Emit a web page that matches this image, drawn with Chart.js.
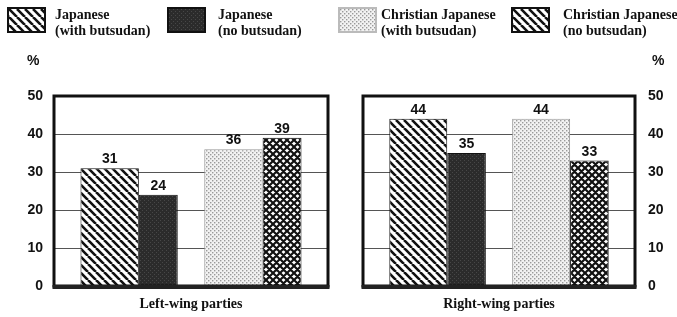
<!DOCTYPE html>
<html>
<head>
<meta charset="utf-8">
<script src="https://cdn.jsdelivr.net/npm/chart.js@4"></script>
<style>
  body { margin: 0; width: 677px; height: 317px; background: #fff; position: relative; overflow: hidden; }
  canvas.chart { position: absolute; top: 0; }
  .legend { position: absolute; top: 7px; font: bold 14px 'Liberation Serif', 'Times New Roman', serif; line-height: 16px; color: #111; white-space: nowrap; }
  .swatch { position: absolute; top: 7px; width: 39px; height: 26px; box-sizing: border-box; border: 2px solid #111; }
  .pct { position: absolute; top: 52px; font: bold 14px 'Liberation Sans', Arial, sans-serif; color: #111; }
</style>
</head>
<body>
<canvas id="chartLeft" class="chart" style="left:0" width="340" height="317"></canvas>
<canvas id="chartRight" class="chart" style="left:340px" width="337" height="317"></canvas>
<div id="legend"></div>
<div class="pct" style="left:27px">%</div>
<div class="pct" style="left:652px">%</div>

<script>
// Dades llegides del gràfic
const grups = ['Japanese', 'Christian Japanese'];
const panells = ['Left-wing parties', 'Right-wing parties'];
const ambButsudanEsq = [31, 36];
const senseButsudanEsq = [24, 39];
const ambButsudanDreta = [44, 44];
const senseButsudanDreta = [35, 33];
const yTicks = [0, 10, 20, 30, 40, 50];

const llegendaLinies = [
  ['Japanese', '(with butsudan)'],
  ['Japanese', '(no butsudan)'],
  ['Christian Japanese', '(with butsudan)'],
  ['Christian Japanese', '(no butsudan)']
];
const llegendaPatrons = ['ratlles', 'fosc', 'punts', 'ratlles'];

const fontSans = "'Liberation Sans', Arial, sans-serif";
const fontSerif = "'Liberation Serif', 'Times New Roman', serif";

// Patrons de farciment (trames)
function crearPatro(tipus) {
  const c = document.createElement('canvas');
  const x = c.getContext('2d');
  if (tipus === 'ratlles') {
    c.width = c.height = 8;
    x.fillStyle = '#fff'; x.fillRect(0, 0, 8, 8);
    x.strokeStyle = '#111'; x.lineWidth = 2.6;
    x.beginPath();
    [-8, 0, 8].forEach(k => { x.moveTo(k, 0); x.lineTo(k + 8, 8); });
    x.stroke();
  } else if (tipus === 'fosc') {
    c.width = c.height = 4;
    x.fillStyle = '#2b2b2b'; x.fillRect(0, 0, 4, 4);
    x.fillStyle = '#474747'; x.fillRect(0, 0, 1, 1); x.fillRect(2, 2, 1, 1);
  } else if (tipus === 'punts') {
    c.width = c.height = 4;
    x.fillStyle = '#f2f2f2'; x.fillRect(0, 0, 4, 4);
    x.fillStyle = '#9a9a9a'; x.fillRect(0, 0, 1.4, 1.4); x.fillRect(2, 2, 1.4, 1.4);
  } else if (tipus === 'creu') {
    c.width = c.height = 7;
    x.fillStyle = '#fff'; x.fillRect(0, 0, 7, 7);
    x.strokeStyle = '#111'; x.lineWidth = 2.2;
    x.beginPath();
    [-7, 0, 7].forEach(k => {
      x.moveTo(k, 0); x.lineTo(k + 7, 7);
      x.moveTo(k, 7); x.lineTo(k + 7, 0);
    });
    x.stroke();
  }
  return x.createPattern(c, 'repeat');
}

function pintarLlegenda() {
  const cont = document.getElementById('legend');
  const posSwatch = [7, 167, 338, 511];
  const posText = [55, 218, 381, 563];
  llegendaLinies.forEach((linies, i) => {
    const sw = document.createElement('canvas');
    sw.className = 'swatch';
    sw.width = 35; sw.height = 22;
    sw.style.left = posSwatch[i] + 'px';
    if (i === 2) sw.style.borderColor = '#bbb';
    const ctx = sw.getContext('2d');
    ctx.fillStyle = crearPatro(llegendaPatrons[i]);
    ctx.fillRect(0, 0, 35, 22);
    cont.appendChild(sw);
    const t = document.createElement('div');
    t.className = 'legend';
    t.style.left = posText[i] + 'px';
    t.innerHTML = linies.join('<br>');
    cont.appendChild(t);
  });
}

// Reparteix cada parella de barres: barra ample + barra estreta, buits iguals
const ajustBarres = {
  id: 'ajustBarres',
  afterDatasetsUpdate(chart) {
    const a = chart.getDatasetMeta(0).data;
    const b = chart.getDatasetMeta(1).data;
    const area = chart.chartArea;
    const n = a.length;
    const amplada = a[0].width + b[0].width;
    const buit = (area.right - area.left - n * amplada) / (n + 1);
    for (let i = 0; i < n; i++) {
      const esq = area.left + buit + i * (amplada + buit);
      const wa = amplada * 0.6;
      a[i].x = esq + wa / 2; a[i].width = wa;
      b[i].x = esq + wa + (amplada - wa) / 2; b[i].width = amplada - wa;
    }
  },
  afterDatasetsDraw(chart) {
    const ctx = chart.ctx;
    ctx.save();
    ctx.font = 'bold 14px ' + fontSans;
    ctx.fillStyle = '#111';
    ctx.textAlign = 'center';
    ctx.textBaseline = 'alphabetic';
    chart.data.datasets.forEach((ds, di) => {
      chart.getDatasetMeta(di).data.forEach((bar, i) => {
        ctx.fillText(ds.data[i], bar.x, bar.y - 5);
      });
    });
    // marc gruixut de l'àrea
    const a = chart.chartArea;
    ctx.strokeStyle = '#111';
    ctx.lineWidth = 3;
    ctx.strokeRect(a.left, a.top, a.right - a.left, a.bottom - a.top);
    ctx.lineWidth = 4;
    ctx.strokeStyle = '#222';
    ctx.beginPath();
    ctx.moveTo(a.left - 1.5, a.bottom + 1);
    ctx.lineTo(a.right + 1.5, a.bottom + 1);
    ctx.stroke();
    ctx.restore();
  }
};

function crearGrafic(id, titol, amb, sense, costat) {
  const dreta = costat === 'right';
  return new Chart(document.getElementById(id), {
    type: 'bar',
    data: {
      labels: grups,
      datasets: [
        { label: 'with butsudan', data: amb, backgroundColor: [crearPatro('ratlles'), crearPatro('punts')],
          borderColor: ['#111', '#999'], borderWidth: 1, borderSkipped: 'bottom' },
        { label: 'no butsudan', data: sense, backgroundColor: [crearPatro('fosc'), crearPatro('creu')],
          borderColor: '#111', borderWidth: 1, borderSkipped: 'bottom' }
      ]
    },
    options: {
      responsive: false,
      animation: false,
      events: [],
      categoryPercentage: 0.71,
      barPercentage: 1,
      layout: { padding: { top: 96, left: dreta ? 23 : 0, right: dreta ? 0 : 12, bottom: 0 } },
      plugins: { legend: { display: false }, tooltip: { enabled: false } },
      scales: {
        x: {
          ticks: { display: false },
          grid: { display: false },
          border: { display: false },
          title: { display: true, text: titol, color: '#111',
                   font: { family: fontSerif, size: 14, weight: 'bold' }, padding: { top: 12 } },
          afterFit: s => { s.height = 31; }
        },
        y: {
          position: costat,
          min: 0, max: 50,
          afterBuildTicks: s => { s.ticks = yTicks.map(v => ({ value: v })); },
          ticks: { color: '#111', padding: dreta ? 13 : 11,
                   font: { family: fontSans, size: 14, weight: 'bold' } },
          grid: { color: '#555', lineWidth: 1, drawTicks: false },
          border: { display: false },
          afterFit: s => { s.width = dreta ? 42 : 54; }
        }
      }
    },
    plugins: [ajustBarres]
  });
}

pintarLlegenda();
crearGrafic('chartLeft', panells[0], ambButsudanEsq, senseButsudanEsq, 'left');
crearGrafic('chartRight', panells[1], ambButsudanDreta, senseButsudanDreta, 'right');
</script>
</body>
</html>
